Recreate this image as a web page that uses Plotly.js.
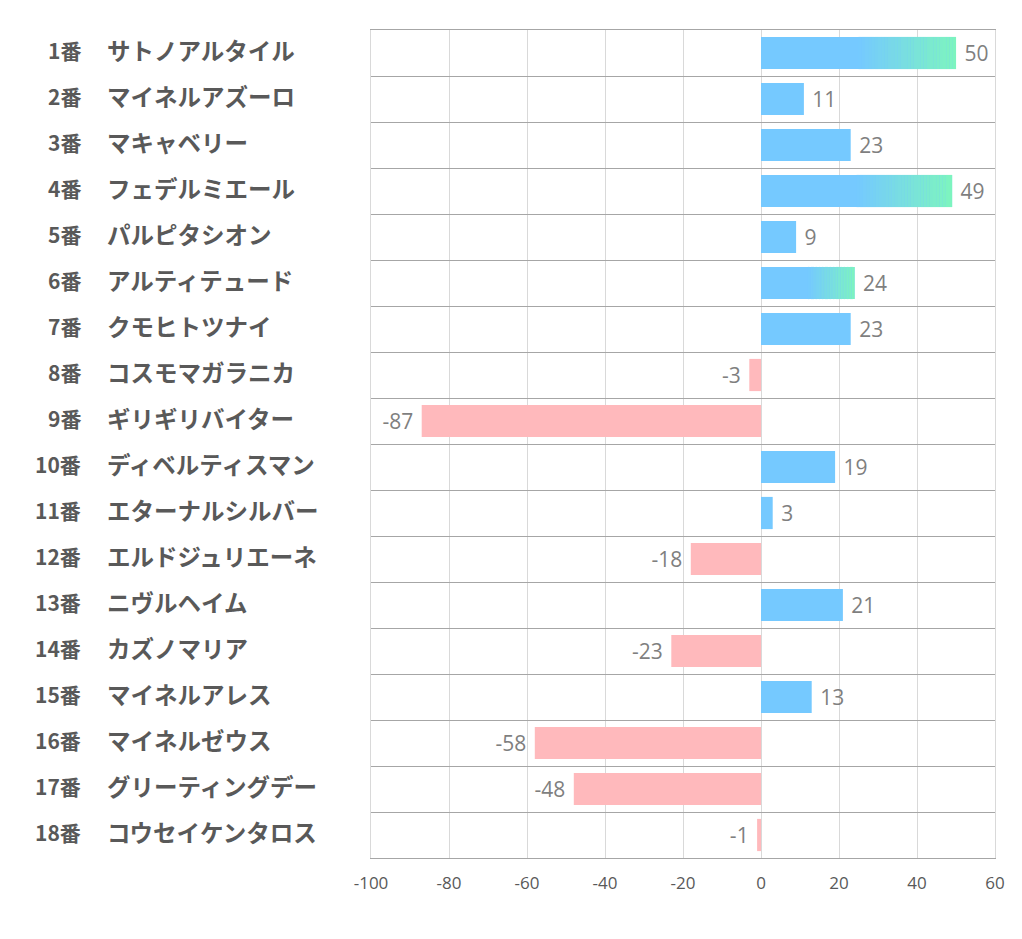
<!DOCTYPE html>
<html><head><meta charset="utf-8">
<script src="https://cdn.plot.ly/plotly-3.0.1.min.js"></script>
<style>body{margin:0;background:#fff}</style>
</head><body>
<div id="chart" style="width:1022px;height:939px"></div>
<script>
const numbers = ["1番","2番","3番","4番","5番","6番","7番","8番","9番","10番","11番","12番","13番","14番","15番","16番","17番","18番"];
const names = ["サトノアルタイル","マイネルアズーロ","マキャベリー","フェデルミエール","パルピタシオン","アルティテュード","クモヒトツナイ","コスモマガラニカ","ギリギリバイター","ディベルティスマン","エターナルシルバー","エルドジュリエーネ","ニヴルヘイム","カズノマリア","マイネルアレス","マイネルゼウス","グリーティングデー","コウセイケンタロス"];
const values = [50,11,23,49,9,24,23,-3,-87,19,3,-18,21,-23,13,-58,-48,-1];
const highlighted = ["1番","4番","6番"];
const xTicks = [-100,-80,-60,-40,-20,0,20,40,60];

const BLUE=[117,201,255], GREEN=[125,245,190], PINK='rgb(255,185,188)';
const mix=(t)=>'rgb('+BLUE.map((c,i)=>Math.round(c+(GREEN[i]-c)*t)).join(',')+')';

const main = {
  type:'bar', orientation:'h', y:numbers, x:values, width:0.7,
  marker:{color:values.map(v=>v>=0?'rgb(117,201,255)':PINK)},
  text:values.map(v=>v>=0?' '+v:v+' '), textposition:'outside', cliponaxis:false,
  textfont:{family:'Open Sans, Noto Sans, sans-serif', size:21, color:'#7f7f7f'},
  hoverinfo:'skip'
};
// gradient overlay over the second half of highlighted bars
const N=30, gy=[], gx=[], gb=[], gc=[];
numbers.forEach((n,i)=>{
  if(!highlighted.includes(n)) return;
  const v=values[i];
  for(let k=0;k<N;k++){
    gy.push(n); gb.push(v*(0.5+0.5*k/N)); gx.push(v*0.5/N*1.02); gc.push(mix((k+0.5)/N));
  }
});
const grad = {type:'bar', orientation:'h', y:gy, x:gx, base:gb, width:0.7,
  marker:{color:gc, line:{width:0}}, hoverinfo:'skip', textposition:'none'};

const annotations=[];
numbers.forEach((n,i)=>{
  annotations.push({xref:'paper', yref:'y', x:(83-371)/624, y:n, xanchor:'right', yanchor:'middle', yshift:3, text:n, showarrow:false,
    font:{family:'Noto Sans CJK JP', size:21, color:'#595959', weight:'bold'}});
  annotations.push({xref:'paper', yref:'y', x:(105-371)/624, y:n, xanchor:'left', yanchor:'middle', yshift:3, text:names[i], showarrow:false,
    font:{family:'Noto Sans CJK JP', size:23.5, color:'#595959', weight:'bold'}});
});

const layout = {
  width:1022, height:939, margin:{l:371, r:27, t:30, b:81},
  paper_bgcolor:'#fff', plot_bgcolor:'#fff', showlegend:false, barmode:'overlay', bargap:0.3,
  xaxis:{range:[-100,60], tickvals:xTicks, ticktext:xTicks.map(String), showgrid:true, gridcolor:'#d9d9d9', gridwidth:1,
    zeroline:false, showline:true, mirror:true, linecolor:'#a6a6a6', ticks:'', ticklen:0, ticklabelstandoff:10,
    tickfont:{family:'Open Sans, Noto Sans, sans-serif', size:17, color:'#595959'}},
  yaxis:{type:'category', categoryarray:numbers, autorange:'reversed', tickson:'boundaries', showgrid:true,
    gridcolor:'#a6a6a6', gridwidth:1, showticklabels:false, ticks:'', zeroline:false, showline:true, mirror:true, linecolor:'#d9d9d9'},
  annotations
};
Plotly.newPlot('chart',[main,grad],layout,{displayModeBar:false, staticPlot:true});
</script>
</body></html>
